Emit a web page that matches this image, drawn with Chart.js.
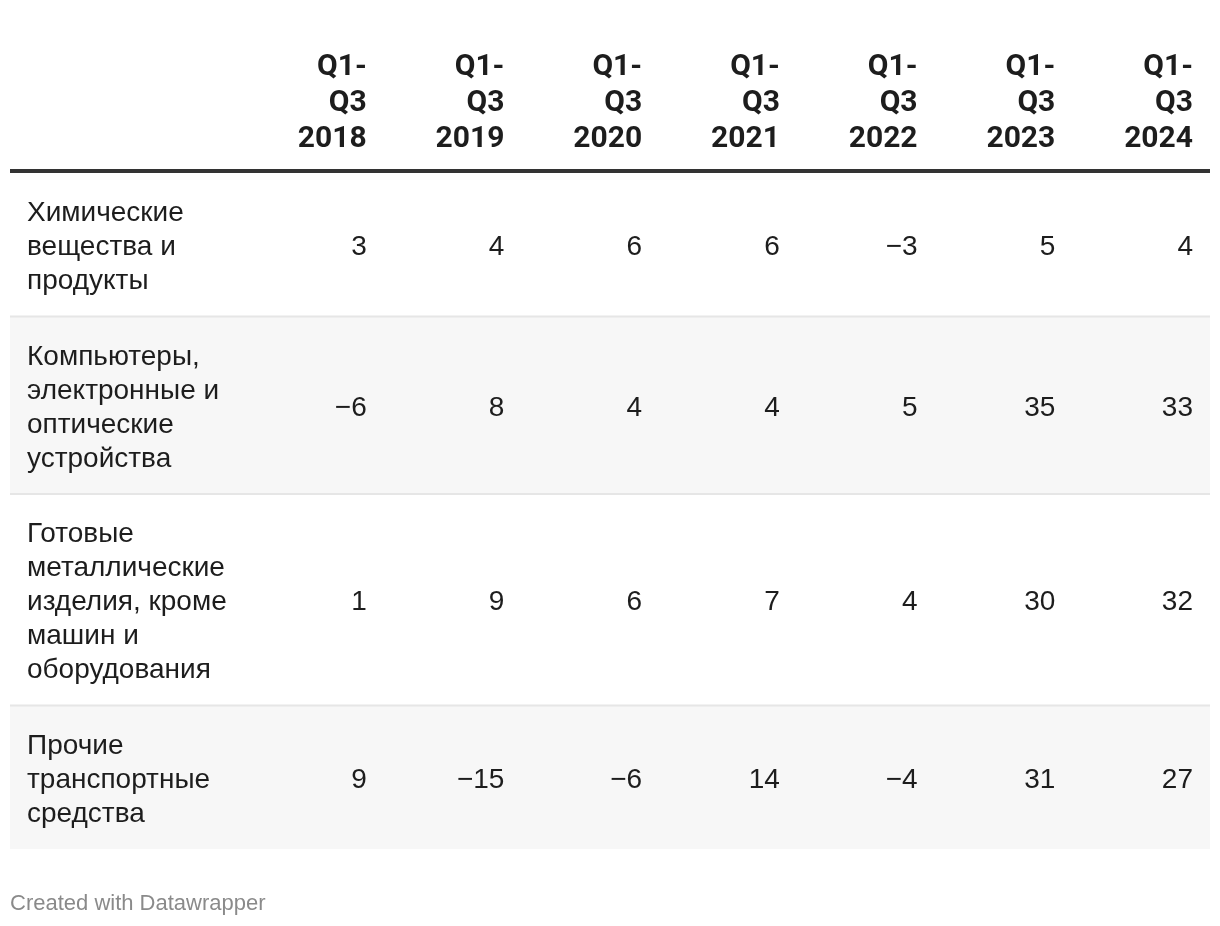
<!DOCTYPE html>
<html>
<head>
<meta charset="utf-8">
<script src="https://cdn.jsdelivr.net/npm/chart.js@4.4.1/dist/chart.umd.min.js"></script>
<style>
  html, body { margin: 0; padding: 0; background: #fff; }
  #wrap { width: 1220px; height: 926px; }
</style>
</head>
<body>
<div id="wrap"><canvas id="table"></canvas></div>
<script>
// Column headers (tick labels), one array of lines per column
const columnHeaders = [
    ["Q1-", "Q3", "2018"],
    ["Q1-", "Q3", "2019"],
    ["Q1-", "Q3", "2020"],
    ["Q1-", "Q3", "2021"],
    ["Q1-", "Q3", "2022"],
    ["Q1-", "Q3", "2023"],
    ["Q1-", "Q3", "2024"]
];

// Row labels, already wrapped the way they appear
const rowLabels = [
    ["Химические", "вещества и", "продукты"],
    ["Компьютеры,", "электронные и", "оптические", "устройства"],
    ["Готовые", "металлические", "изделия, кроме", "машин и", "оборудования"],
    ["Прочие", "транспортные", "средства"]
];

// Values per row
const chemicals = [3, 4, 6, 6, -3, 5, 4];
const computers = [-6, 8, 4, 4, 5, 35, 33];
const metalProducts = [1, 9, 6, 7, 4, 30, 32];
const transport = [9, -15, -6, 14, -4, 31, 27];

const footerText = "Created with Datawrapper";

const rowValues = [chemicals, computers, metalProducts, transport];
const columnKeys = columnHeaders.map(h => h.join(" "));

// Vertical layout in "text line" units: each row takes its line count plus padding
const LINE_PX = 34;
const ROW_PAD = 41.5 / LINE_PX;
let rowStart = [];
let acc = 0;
rowLabels.forEach(lines => {
    rowStart.push(acc);
    acc += lines.length + ROW_PAD;
});
const totalUnits = acc;
const rowCenter = rowLabels.map((lines, i) => rowStart[i] + (lines.length + ROW_PAD) / 2);

function fmt(v) {
    return v < 0 ? "\u2212" + Math.abs(v) : String(v);
}

const HEAD_FONT = "Roboto, 'Noto Sans', sans-serif";
const BODY_FONT = "'Liberation Sans', Arial, sans-serif";
const INK = "#1d1d1d";
const CELL_PAD = 17;
const TEXT_NUDGE = 3; // middle baseline sits a bit high for these fonts

const tablePlugin = {
    id: "tablePlugin",
    beforeDatasetsDraw(chart) {
        const ctx = chart.ctx;
        const area = chart.chartArea;
        const y = chart.scales.y;
        const left = 10;
        ctx.save();
        // striped rows + separators
        rowLabels.forEach((lines, i) => {
            const top = y.getPixelForValue(rowStart[i]);
            const bottom = y.getPixelForValue(rowStart[i] + lines.length + ROW_PAD);
            if (i % 2 === 1) {
                ctx.fillStyle = "#f7f7f7";
                ctx.fillRect(left, top, area.right - left, bottom - top);
            }
            if (i > 0) {
                ctx.fillStyle = "#e6e6e6";
                ctx.fillRect(left, top - 1, area.right - left, 2);
            }
        });
        // header rule
        ctx.fillStyle = "#333333";
        ctx.fillRect(left, area.top - 4, area.right - left, 4);
        ctx.restore();
    },
    afterDatasetsDraw(chart) {
        const ctx = chart.ctx;
        const area = chart.chartArea;
        const x = chart.scales.x;
        const y = chart.scales.y;
        const band = (area.right - area.left) / columnKeys.length;
        ctx.save();
        ctx.textBaseline = "middle";

        // header
        ctx.fillStyle = INK;
        ctx.font = "bold 30px " + HEAD_FONT;
        ctx.textAlign = "right";
        columnHeaders.forEach((lines, c) => {
            const xr = x.getPixelForValue(c) + band / 2 - CELL_PAD;
            lines.forEach((t, k) => {
                const yy = area.top - 34 - (lines.length - 1 - k) * 36;
                ctx.fillText(t, xr, yy);
            });
        });

        // row labels
        ctx.font = "28px " + BODY_FONT;
        ctx.textAlign = "left";
        rowLabels.forEach((lines, i) => {
            const cy = y.getPixelForValue(rowCenter[i]) + TEXT_NUDGE;
            lines.forEach((t, k) => {
                ctx.fillText(t, 10 + CELL_PAD, cy + (k - (lines.length - 1) / 2) * LINE_PX);
            });
        });

        // values, placed at the dataset points
        ctx.textAlign = "right";
        chart.data.datasets.forEach((ds, i) => {
            const meta = chart.getDatasetMeta(i);
            meta.data.forEach((pt, c) => {
                ctx.fillText(fmt(rowValues[i][c]), pt.x + band / 2 - CELL_PAD, pt.y + TEXT_NUDGE);
            });
        });

        // footer
        ctx.font = "22px " + BODY_FONT;
        ctx.fillStyle = "#8a8a8a";
        ctx.textAlign = "left";
        ctx.fillText(footerText, 10, y.getPixelForValue(totalUnits) + 55);
        ctx.restore();
    }
};

const ctx = document.getElementById("table").getContext("2d");
new Chart(ctx, {
    type: "line",
    data: {
        labels: columnKeys,
        datasets: rowValues.map((vals, i) => ({
            label: rowLabels[i].join(" "),
            data: vals.map((v, c) => ({ x: columnKeys[c], y: rowCenter[i] })),
            showLine: false,
            pointRadius: 0,
            pointHoverRadius: 0
        }))
    },
    options: {
        responsive: true,
        maintainAspectRatio: false,
        animation: false,
        events: [],
        layout: { padding: { left: 246, top: 173, right: 10, bottom: 77 } },
        scales: {
            x: { type: "category", offset: true, display: false },
            y: { type: "linear", min: 0, max: totalUnits, reverse: true, display: false }
        },
        plugins: {
            legend: { display: false },
            tooltip: { enabled: false },
            title: { display: false }
        }
    },
    plugins: [tablePlugin]
});
</script>
</body>
</html>
